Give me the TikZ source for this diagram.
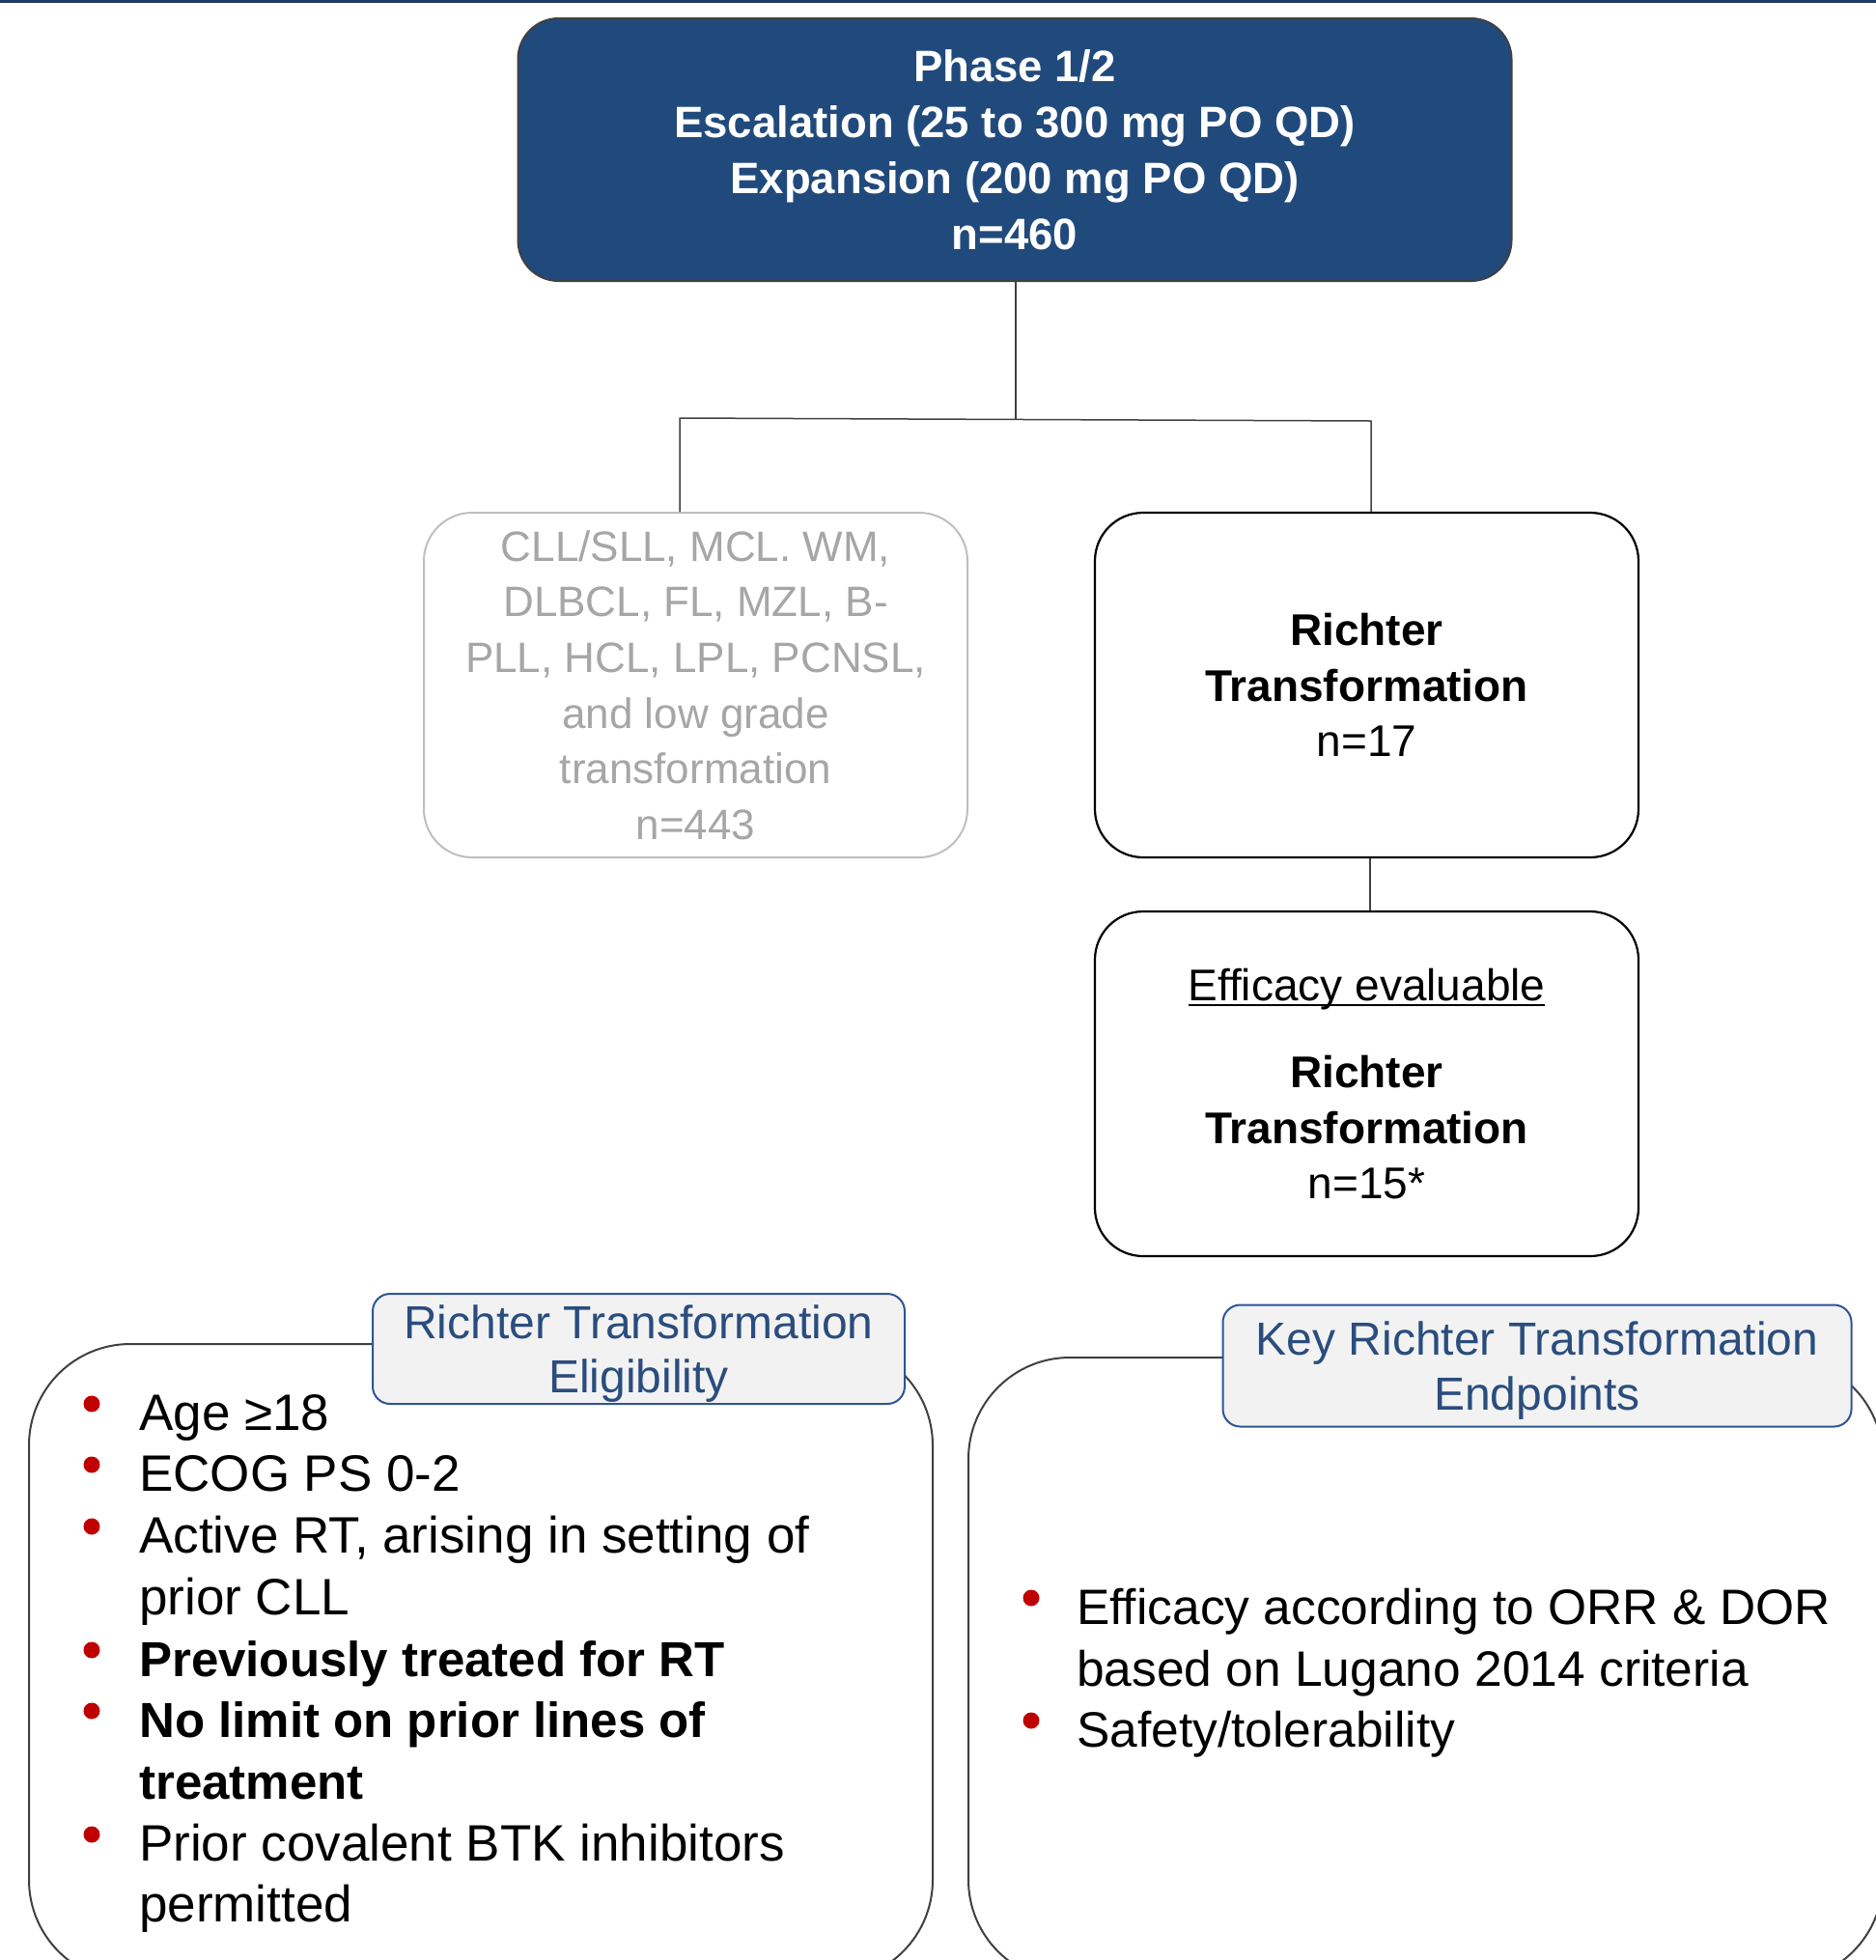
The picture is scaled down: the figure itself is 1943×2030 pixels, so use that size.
\documentclass[tikz,border=0pt]{standalone}
\usepackage{fontspec}
\setmainfont{Liberation Sans}
\definecolor{navy}{HTML}{214A7C}
\definecolor{topbar}{HTML}{1F3864}
\definecolor{labelblue}{HTML}{2A4D7E}
\definecolor{labelborder}{HTML}{2F5597}
\definecolor{labelfill}{HTML}{F2F2F2}
\definecolor{grayborder}{HTML}{BFBFBF}
\definecolor{graytext}{HTML}{A6A6A6}
\definecolor{bulletred}{HTML}{C00000}
\definecolor{linegray}{HTML}{404040}
\newcommand{\fsz}[2]{\fontsize{#1}{#2}\selectfont}
\newcommand{\myuline}[1]{\setbox0\hbox{#1}\rlap{\rule[-6pt]{\wd0}{2.4pt}}\box0}
\begin{document}
\begin{tikzpicture}[x=1pt,y=-1pt,
  topbox/.style={draw=linegray, fill=navy, text=white, rounded corners=42pt, line width=2pt,
    align=center, inner sep=0pt, font=\fsz{45.5}{58}\bfseries},
  graybox/.style={draw=grayborder, rounded corners=50pt, line width=2pt, text=graytext,
    align=center, inner sep=0pt, font=\fsz{44}{57.6}},
  blackbox/.style={draw=black, rounded corners=50pt, line width=2.2pt,
    align=center, inner sep=0pt, font=\fsz{46}{57.5}},
  bigbox/.style={draw=linegray, rounded corners=105pt, line width=2pt, inner sep=0pt},
  labelbox/.style={draw=labelborder, fill=labelfill, text=labelblue, rounded corners=18pt,
    line width=2pt, align=center, inner sep=0pt, font=\fsz{48}{56.5}},
  conn/.style={draw=linegray, line width=1.5pt},
  itemL/.style={anchor=base west, inner sep=0pt, font=\fsz{53}{64}},
  itemLb/.style={anchor=base west, inner sep=0pt, font=\fsz{51}{64}\bfseries},
  itemR/.style={anchor=base west, inner sep=0pt, font=\fsz{51.5}{64}},
  dot/.style={fill=bulletred}
]
\useasboundingbox (0,0) rectangle (1943,2030);
\clip (0,0) rectangle (1943,2030);
\fill[topbar] (0,0) rectangle (1943,3);

% top box
\node[topbox, minimum width=1029pt, minimum height=272pt] (phase) at (1051,155)
  {Phase 1/2\\Escalation (25 to 300 mg PO QD)\\Expansion (200 mg PO QD)\\n=460};

% second row
\node[graybox, minimum width=563pt, minimum height=357pt] (other) at (720.5,709.5)
  {CLL/SLL, MCL. WM,\\DLBCL, FL, MZL, B-\\PLL, HCL, LPL, PCNSL,\\and low grade\\transformation\\n=443};
\node[blackbox, minimum width=563pt, minimum height=357pt] (rt) at (1415.5,709.5)
  {\textbf{Richter}\\\textbf{Transformation}\\n=17};
\node[blackbox, minimum width=563pt, minimum height=357pt] (eff) at (1415.5,1122.5)
  {\myuline{Efficacy evaluable}\\[33pt]\textbf{Richter}\\\textbf{Transformation}\\n=15*};

% connectors
\coordinate (jm) at (1052,434.5);
\coordinate (jl) at (704,433);
\coordinate (jr) at (1420,436);
\coordinate (c2) at (1419,0);
\draw[conn] (phase.south -| jm) -- (jm);
\draw[conn] (other.north -| jl) -- (jl) -- (jr) -- (rt.north -| jr);
\draw[conn] (rt.south -| c2) -- (eff.north -| c2);

% bottom boxes
\node[bigbox, minimum width=936pt, minimum height=660pt] (elig) at (498,1722) {};
\node[bigbox, minimum width=947pt, minimum height=646pt] (endp) at (1476.5,1729) {};
\node[labelbox, minimum width=551pt, minimum height=114pt] (eliglabel) at (661.5,1397)
  {\rule{0pt}{45pt}Richter Transformation\\Eligibility};
\node[labelbox, minimum width=651pt, minimum height=126pt] (endplabel) at (1592,1414.5)
  {\rule{0pt}{45pt}Key Richter Transformation\\Endpoints};

% left bullets
\fill[dot] (95,1454) circle (8.5pt);
\node[itemL] (l1) at (144,1481) {Age ≥18};
\fill[dot] (95,1517) circle (8.5pt);
\node[itemL] (l2) at (144,1544) {ECOG PS 0-2};
\fill[dot] (95,1581) circle (8.5pt);
\node[itemL] (l3a) at (144,1608.5) {Active RT, arising in setting of};
\node[itemL] (l3b) at (144,1672) {prior CLL};
\fill[dot] (95,1709) circle (8.5pt);
\node[itemLb] (l4) at (144,1736) {Previously treated for RT};
\fill[dot] (95,1772) circle (8.5pt);
\node[itemLb] (l5a) at (144,1799) {No limit on prior lines of};
\node[itemLb] (l5b) at (144,1863.5) {treatment};
\fill[dot] (95,1900) circle (8.5pt);
\node[itemL] (l6a) at (144,1927) {Prior covalent BTK inhibitors};
\node[itemL] (l6b) at (144,1990) {permitted};

% right bullets
\fill[dot] (1068,1655) circle (8.5pt);
\node[itemR] (r1a) at (1115,1682) {Efficacy according to ORR \& DOR};
\node[itemR] (r1b) at (1115,1746) {based on Lugano 2014 criteria};
\fill[dot] (1068,1782) circle (8.5pt);
\node[itemR] (r2) at (1115,1809) {Safety/tolerability};
\end{tikzpicture}
\end{document}
